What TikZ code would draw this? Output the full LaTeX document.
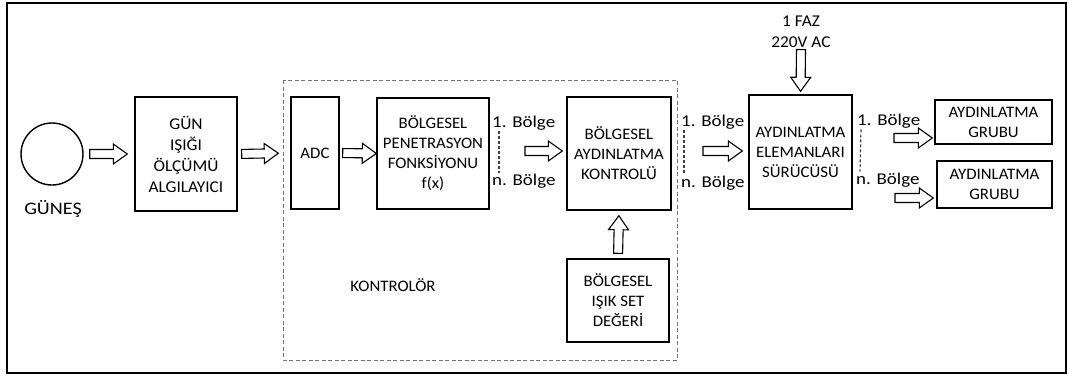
\documentclass[tikz,border=0pt]{standalone}
\usepackage{fontspec}
\setmainfont{Carlito}[FakeStretch=1.05]
\newfontfamily\lblfont{Carlito}[FakeStretch=1.15]
\usetikzlibrary{calc}
\tikzset{
  txt/.style={font=\fontsize{16}{20}\selectfont, align=center, inner sep=1pt},
  box/.style={txt, draw=black, line width=1.4pt, inner sep=0pt},
  lbl/.style={font=\lblfont\fontsize{16.5}{20}\selectfont, inner sep=1pt, anchor=west},
  blockarrow/.style={draw=black, line width=1.1pt, fill=white, line join=miter},
  zdash/.style={draw=black!75, line width=1.2pt, dash pattern=on 3pt off 2pt},
  ctrlbox/.style={draw=black!55, line width=1pt, dash pattern=on 4pt off 2.5pt}
}
\newcommand\barr[4]{%
  \path let \p1=($#1!#3pt!#2$), \p2=($#2!#4pt!#1$) in
    \pgfextra{%
      \pgfmathparse{\x1}\xdef\bax{\pgfmathresult}%
      \pgfmathparse{\y1}\xdef\bay{\pgfmathresult}%
      \pgfmathparse{atan2(\y2-\y1,\x2-\x1)}\xdef\bang{\pgfmathresult}%
      \pgfmathparse{veclen(\x2-\x1,\y2-\y1)}\xdef\blen{\pgfmathresult}%
    };
  \draw[blockarrow, shift={(\bax pt,\bay pt)}, rotate=\bang]
    (0pt,-4.5pt) -- ({(\blen-14)*1pt},-4.5pt) -- ({(\blen-14)*1pt},-10pt)
    -- ({\blen*1pt},0pt) -- ({(\blen-14)*1pt},10pt) -- ({(\blen-14)*1pt},4.5pt)
    -- (0pt,4.5pt) -- cycle;}
\begin{document}
\begin{tikzpicture}[x=1pt,y=-1pt]
\useasboundingbox (0,0) rectangle (1068,378);
\draw[line width=2pt] (7,3) rectangle (1066,373);

% controller dashed frame
\draw[ctrlbox] (283,80) rectangle (677,360);

% sun
\node[draw=black, line width=1.4pt, circle, minimum size=62pt, inner sep=0pt] (sun) at (52,154) {};
\node[txt, font=\lblfont\fontsize{17.5}{20}\selectfont] (sunlbl) at (53,209) {GÜNEŞ};

% boxes
\node[box, font=\fontsize{16.5}{21}\selectfont, minimum width=102pt, minimum height=114pt] (gun) at (186,154) {GÜN\\IŞIĞI\\ÖLÇÜMÜ\\ALGILAYICI};
\node[box, minimum width=48pt, minimum height=112pt] (adc) at (315,153) {ADC};
\node[box, minimum width=112pt, minimum height=111pt] (pen) at (433,153.5) {BÖLGESEL\\PENETRASYON\\FONKSİYONU\\f(x)};
\node[box, minimum width=104pt, minimum height=113pt] (kon) at (619,153.5) {BÖLGESEL\\AYDINLATMA\\KONTROLÜ};
\node[box, minimum width=102pt, minimum height=83pt] (set) at (618,300.5) {BÖLGESEL\\IŞIK SET\\DEĞERİ};
\node[box, minimum width=103pt, minimum height=114pt] (sur) at (800.5,152) {AYDINLATMA\\ELEMANLARI\\SÜRÜCÜSÜ};
\node[box, minimum width=117pt, minimum height=44pt] (g1) at (993.5,122) {AYDINLATMA\\GRUBU};
\node[box, minimum width=115pt, minimum height=47pt] (g2) at (994.5,184.5) {AYDINLATMA\\GRUBU};

\node[txt] (ctrl) at (393,285) {KONTROLÖR};
\node[txt, font=\fontsize{16.5}{21}\selectfont] (ac) at (801,31.5) {1 FAZ\\220V AC};

% zone labels
\node[lbl] (b1a) at (491,123) {1. Bölge};
\node[lbl] (bna) at (491,181) {n. Bölge};
\node[lbl] (b1b) at (680,122) {1. Bölge};
\node[lbl] (bnb) at (680,183) {n. Bölge};
\node[lbl] (b1c) at (856,121) {1. Bölge};
\node[lbl] (bnc) at (855,180) {n. Bölge};
\draw[zdash] ([xshift=8pt]b1a.south west) -- ([xshift=8pt]bna.north west);
\draw[zdash] ([xshift=4pt]b1b.south west) -- ([xshift=4pt]bnb.north west);
\draw[zdash] ([xshift=5pt]b1c.south west) -- ([xshift=5pt]bnc.north west);

% arrow anchors
\coordinate (i1) at (525,151);
\coordinate (i2) at (703,151);
\coordinate (o1) at (894,138);
\coordinate (o2) at (895,198);

% block arrows
\barr{(sun.east)}{(gun.west)}{6}{7}
\barr{(gun.east)}{(adc.west)}{4}{12}
\barr{(adc.east)}{(pen.west)}{3}{0}
\barr{(i1)}{(i1 -| kon.west)}{0}{4}
\barr{(set.north)}{(kon.south)}{5}{5}
\barr{(i2)}{(i2 -| sur.west)}{0}{6}
\barr{(ac.south)}{(sur.north)}{1}{3}
\barr{(o1)}{(o1 -| g1.west)}{0}{2}
\barr{(o2)}{(o2 -| g2.west)}{0}{3}
\end{tikzpicture}
\end{document}
